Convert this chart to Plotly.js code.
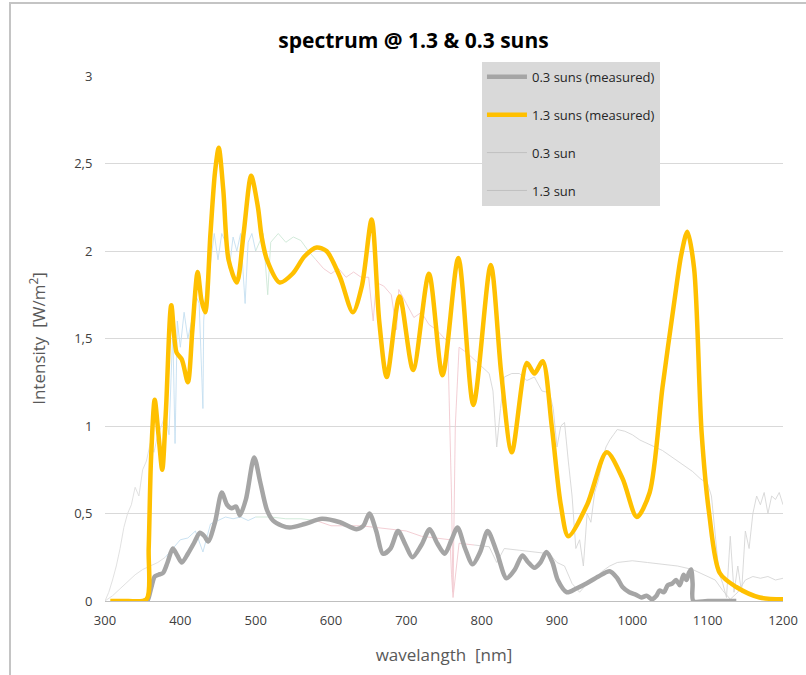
<!DOCTYPE html>
<html>
<head>
<meta charset="utf-8">
<script src="https://cdn.plot.ly/plotly-3.0.1.min.js"></script>
<style>html,body{margin:0;padding:0;background:#fff;}#chart{width:806px;height:675px;}</style>
</head>
<body>
<div id="chart"></div>
<script>
// measured 1.3 suns
const wl13m = [307,330,355,358,361,366,371,376,381,388,395,402,410,416,423,428,433,440,446,451,457,464,475,484,494,503,508,515,532,549,565,581,594,612,629,641,654,664,674,691,709,730,748,769,789,812,826,840,860,870,881,893,905,915,940,966,987,1006,1023,1040,1056,1065,1073,1082,1092,1102,1116,1138,1169,1200];
const int13m = [0,0,0.01,0.3,0.8,1.15,0.95,0.75,1.1,1.69,1.42,1.38,1.25,1.55,1.88,1.72,1.65,2.1,2.45,2.59,2.35,1.95,1.82,2.1,2.43,2.25,2.08,1.95,1.82,1.87,1.97,2.02,2.0,1.85,1.65,1.8,2.18,1.6,1.28,1.74,1.32,1.87,1.29,1.96,1.12,1.92,1.3,0.85,1.36,1.30,1.37,1.0,0.55,0.37,0.55,0.85,0.7,0.48,0.62,1.22,1.72,1.98,2.11,1.9,0.96,0.5,0.16,0.08,0.02,0.01];

// measured 0.3 suns
const wl03m = [350,356,361,366,371,377,383,390,396,402,410,418,426,432,437,446,455,462,468,474,479,487,498,506,515,523,535,545,565,588,612,634,643,651,660,669,679,689,699,708,720,731,741,751,760,768,778,788,798,808,820,833,844,854,862,870,878,886,894,901,913,925,939,955,970,980,987,996,1005,1012,1019,1026,1032,1036,1042,1047,1053,1058,1063,1068,1072,1075,1078,1080,1081,1100,1138];
const int03m = [0,0,0.07,0.14,0.15,0.16,0.22,0.30,0.26,0.22,0.27,0.33,0.39,0.37,0.34,0.45,0.62,0.55,0.53,0.54,0.49,0.58,0.82,0.68,0.52,0.46,0.43,0.42,0.44,0.47,0.45,0.41,0.43,0.50,0.40,0.27,0.30,0.40,0.32,0.25,0.32,0.41,0.33,0.27,0.35,0.42,0.30,0.21,0.28,0.40,0.28,0.13,0.18,0.26,0.22,0.19,0.22,0.28,0.22,0.12,0.05,0.07,0.10,0.14,0.17,0.13,0.08,0.05,0.035,0.02,0.03,0.01,0.03,0.06,0.05,0.09,0.10,0.12,0.09,0.15,0.12,0.16,0.18,0.10,0,0,0];

// reference 1.3 sun
const wl13r = [300,305,310,315,320,325,330,335,340,345,350,355,360,365,370,375,380,385,390,393,396,400,405,410,415,420,425,430,431,435,440,445,450,455,460,465,470,475,480,486,490,495,500,510,516,520,530,540,550,560,570,580,590,600,610,620,630,640,650,656,660,670,680,687,690,700,710,720,730,740,750,755,760,762,765,770,780,790,800,810,815,820,825,830,840,850,860,870,880,890,895,900,905,910,915,920,925,930,935,940,945,950,955,960,965,970,975,980,990,1000,1010,1020,1030,1040,1050,1060,1070,1080,1090,1100,1105,1110,1115,1120,1125,1130,1135,1140,1145,1150,1155,1160,1165,1170,1175,1180,1185,1190,1195,1200];
const int13r = [0.0,0.05,0.12,0.2,0.3,0.42,0.5,0.55,0.65,0.6,0.75,0.8,0.9,0.85,0.95,1.0,1.07,0.95,1.55,0.9,1.6,1.45,1.65,1.5,1.6,1.75,1.7,1.1,1.6,1.85,1.93,2.1,1.95,2.1,2.05,1.9,2.08,2.0,2.1,1.7,2.05,2.1,2.0,2.1,1.75,2.05,2.1,2.05,2.08,2.06,2.0,1.95,1.9,1.87,1.9,1.85,1.88,1.85,1.85,1.6,1.82,1.8,1.75,1.55,1.78,1.7,1.62,1.65,1.58,1.55,1.5,1.48,0.6,0.05,1.0,1.45,1.42,1.38,1.34,1.3,1.2,0.88,1.1,1.28,1.3,1.3,1.26,1.28,1.2,1.19,1.1,0.88,1.0,1.02,0.8,0.6,0.3,0.35,0.2,0.5,0.45,0.62,0.69,0.8,0.88,0.92,0.95,0.98,0.97,0.95,0.92,0.9,0.88,0.86,0.83,0.8,0.77,0.74,0.7,0.67,0.6,0.4,0.16,0.1,0.02,0.37,0.05,0.2,0.05,0.4,0.3,0.5,0.6,0.55,0.62,0.5,0.6,0.58,0.62,0.55,0.6];

// reference 0.3 sun
const wl03r = [300,310,320,330,340,350,360,370,380,390,400,410,420,430,440,450,460,470,480,490,500,520,540,560,580,600,620,640,660,680,700,720,740,758,760,762,770,790,810,820,830,850,870,890,900,910,920,930,940,950,960,970,980,1000,1020,1040,1060,1080,1100,1110,1120,1130,1140,1150,1160,1170,1180,1190,1200];
const int03r = [0,0.03,0.07,0.11,0.15,0.18,0.2,0.22,0.25,0.3,0.35,0.36,0.4,0.28,0.44,0.46,0.48,0.47,0.48,0.46,0.48,0.48,0.47,0.47,0.46,0.43,0.43,0.43,0.42,0.41,0.40,0.37,0.36,0.35,0.15,0.02,0.33,0.32,0.31,0.22,0.30,0.29,0.28,0.27,0.22,0.2,0.1,0.05,0.1,0.12,0.17,0.2,0.22,0.23,0.22,0.21,0.2,0.18,0.14,0.12,0.06,0.01,0.05,0.12,0.14,0.13,0.14,0.12,0.13];

const seriesNames = ['0.3 suns (measured)', '1.3 suns (measured)', '0.3 sun', '1.3 sun'];
const yTicks = [0, 0.5, 1, 1.5, 2, 2.5, 3];
const xTicks = [300,400,500,600,700,800,900,1000,1100,1200];

// faint spectral tint for the thin reference curves (wavelength bands)
const bands = [
  {lo: 300, hi: 380, color: '#dedede'},
  {lo: 380, hi: 500, color: '#c4dff0'},
  {lo: 500, hi: 580, color: '#cde8d6'},
  {lo: 580, hi: 790, color: '#f2c8cf'},
  {lo: 790, hi: 1200, color: '#d6d6d6'}
];

function bandTraces(xs, ys, name, rank, group) {
  const out = [];
  bands.forEach((b) => {
    const bx = [], by = [];
    xs.forEach((v, k) => { if (v >= b.lo && v <= b.hi) { bx.push(v); by.push(ys[k]); } });
    out.push({x: bx, y: by, mode: 'lines', name: name, legendgroup: group, legendrank: rank,
              showlegend: false, hoverinfo: 'skip', line: {color: b.color, width: 0.9}});
  });
  out.push({x: [null], y: [null], mode: 'lines', name: name, legendgroup: group, legendrank: rank,
            showlegend: true, line: {color: '#bdbdbd', width: 0.9}});
  return out;
}

const data = [].concat(
  bandTraces(wl13r, int13r, seriesNames[3], 4, 'd'),
  bandTraces(wl03r, int03r, seriesNames[2], 3, 'c'),
  [
    {x: wl03m, y: int03m, name: seriesNames[0], legendrank: 1, legendgroup: 'a', mode: 'lines',
     line: {color: '#A5A5A5', width: 4.5, shape: 'spline', smoothing: 0.8}},
    {x: wl13m, y: int13m, name: seriesNames[1], legendrank: 2, legendgroup: 'b', mode: 'lines',
     line: {color: '#FFC000', width: 4.5, shape: 'spline', smoothing: 0.8}}
  ]
);

const layout = {
  width: 806, height: 675,
  margin: {l: 105, r: 23, t: 76, b: 74},
  paper_bgcolor: '#ffffff', plot_bgcolor: '#ffffff',
  separators: ',.',
  font: {family: 'Open Sans, sans-serif', size: 12, color: '#404040'},
  title: {text: '<b>spectrum @ 1.3 &amp; 0.3 suns</b>', font: {size: 21, color: '#000000'},
          x: 0.513, xanchor: 'center', y: 0.94, yanchor: 'middle'},
  xaxis: {range: [300, 1200], tickvals: xTicks, showgrid: false, zeroline: false,
          showline: false, ticks: 'outside', ticklen: 7, tickcolor: 'rgba(0,0,0,0)',
          tickfont: {size: 13, color: '#404040'},
          title: {text: 'wavelangth  [nm]', font: {size: 17, color: '#595959'}, standoff: 21}},
  yaxis: {range: [0, 3], tickvals: yTicks, showgrid: true, gridcolor: '#d9d9d9', gridwidth: 1,
          zeroline: true, zerolinecolor: '#bfbfbf', zerolinewidth: 1, showline: false,
          ticks: 'outside', ticklen: 9, tickcolor: 'rgba(0,0,0,0)',
          tickfont: {size: 13, color: '#404040'},
          title: {text: 'Intensity  [W/m<sup>2</sup>]', font: {size: 17, color: '#595959'}, standoff: 24}},
  showlegend: true,
  legend: {x: 0.556, y: 1.027, xanchor: 'left', yanchor: 'top', bgcolor: '#d9d9d9',
           borderwidth: 0, font: {size: 13, color: '#262626'}, traceorder: 'grouped',
           tracegroupgap: 18, itemwidth: 40},
  shapes: [
    {type: 'rect', xref: 'paper', yref: 'paper', x0: -0.1401, x1: 1.06, y0: -0.16, y1: 1.139,
     line: {color: '#c4c4c4', width: 2}, fillcolor: 'rgba(0,0,0,0)', layer: 'below'}
  ]
};

Plotly.newPlot('chart', data, layout, {displayModeBar: false, staticPlot: true});
</script>
</body>
</html>
